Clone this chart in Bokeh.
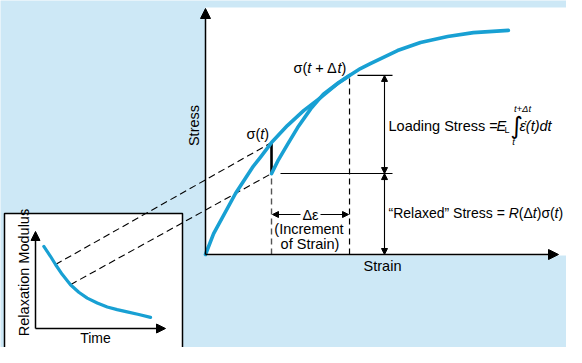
from math import pi
from bokeh.plotting import figure
from bokeh.models import Range1d, Arrow, NormalHead
from bokeh.core.properties import value
from bokeh.embed import file_html
from bokeh.resources import INLINE

# ---------------- data ----------------
# loading curve (stress-strain from origin), arbitrary units
loading_strain = [0.0, 0.23, 0.85, 1.33, 1.56, 1.87, 2.32, 2.78, 3.26, 3.74, 4.08, 4.39, 4.67, 5.44, 6.09, 6.86, 7.59, 8.58]
loading_stress = [0.0, 0.85, 2.48, 3.54, 3.96, 4.55, 5.24, 5.85, 6.38, 6.95, 7.28, 7.56, 7.76, 8.29, 8.62, 8.86, 9.02, 9.11]
# reloading curve after relaxation (from relaxed stress to sigma(t+dt))
reload_strain = [1.87, 2.07, 2.32, 2.61, 2.98, 3.34, 3.74, 4.08]
reload_stress = [3.29, 3.86, 4.47, 5.16, 5.92, 6.52, 6.95, 7.28]
# inset: relaxation modulus vs time
relax_time = [0.64, 1.15, 1.54, 2.05, 2.69, 3.33, 3.98, 4.75, 5.52, 6.28, 7.05, 7.95, 8.85]
relax_modulus = [8.37, 7.37, 6.53, 5.53, 4.47, 3.70, 3.10, 2.60, 2.20, 1.93, 1.70, 1.43, 1.13]
SIGMA_T_IDX = 5          # index of sigma(t) on loading curve
LINK_IDX = [2, 4]        # inset points linked to sigma(t) and relaxed stress
MAIN_AXIS_MAX = [10.0, 10.0]
INSET_AXIS_MAX = [10.0, 9.9]

# ---------------- layout ----------------
BG = "#cde8f6"
BLUE = "#18a0d3"
FONT = "Liberation Sans"
W, H = 566, 347


def cy(y_img):
    return H - y_img


MX0, MY0, MSX, MSY = 205, 254, 35.3, 24.6      # main diagram origin (image px) and px/unit
IX0, IY0, ISX, ISY = 35, 328, 13.0, 9.8        # inset origin and px/unit


def main_xy(s, st):
    return MX0 + s * MSX, cy(MY0) + st * MSY


def inset_xy(t, m):
    return IX0 + t * ISX, cy(IY0) + m * ISY


p = figure(width=W, height=H, x_range=Range1d(0, W), y_range=Range1d(0, H),
           output_backend="svg", toolbar_location=None, min_border=0,
           x_axis_location=None, y_axis_location=None)
p.grid.visible = False
p.outline_line_color = None
p.background_fill_color = BG
p.border_fill_color = BG
p.extra_x_ranges = {
    "strain": Range1d((0 - MX0) / MSX, (W - MX0) / MSX),
    "time": Range1d((0 - IX0) / ISX, (W - IX0) / ISX),
}
p.extra_y_ranges = {
    "stress": Range1d((0 - cy(MY0)) / MSY, (H - cy(MY0)) / MSY),
    "modulus": Range1d((0 - cy(IY0)) / ISY, (H - cy(IY0)) / ISY),
}

# panels
p.quad(left=[MX0], right=[577], bottom=[cy(255)], top=[cy(7)], fill_color="white", line_color=None)
p.quad(left=[4], right=[182], bottom=[cy(353)], top=[cy(213)], fill_color="white",
       line_color="black", line_width=1.5)


def arrow(x0, y0, x1, y1, size=9, both=False, lw=1.2):
    head = NormalHead(size=size, fill_color="black", line_color="black", line_width=1)
    start = NormalHead(size=size, fill_color="black", line_color="black", line_width=1) if both else None
    p.add_layout(Arrow(x_start=x0, y_start=y0, x_end=x1, y_end=y1, end=head, start=start,
                       line_color="black", line_width=lw))


# axes
ox, oy = main_xy(0, 0)
tx, ty = main_xy(0, MAIN_AXIS_MAX[1])
arrow(ox, oy, tx, ty, size=10, lw=1.5)
tx, ty = main_xy(MAIN_AXIS_MAX[0], 0)
arrow(ox, oy, tx, ty, size=10, lw=1.5)
ox, oy = inset_xy(0, 0)
tx, ty = inset_xy(0, INSET_AXIS_MAX[1])
arrow(ox, oy, tx, ty, size=9, lw=1.5)
tx, ty = inset_xy(INSET_AXIS_MAX[0], 0)
arrow(ox, oy, tx, ty, size=9, lw=1.5)

# link dashed lines from inset to main
sig_s, sig_v = loading_strain[SIGMA_T_IDX], loading_stress[SIGMA_T_IDX]
rel_s, rel_v = reload_strain[0], reload_stress[0]
end_s, end_v = reload_strain[-1], reload_stress[-1]
targets = [main_xy(sig_s, sig_v), main_xy(rel_s, rel_v)]
for i, (mx, my) in zip(LINK_IDX, targets):
    ix, iy = inset_xy(relax_time[i], relax_modulus[i])
    p.segment(x0=[ix], y0=[iy], x1=[mx], y1=[my], line_color="black", line_width=1.1, line_dash="7 4")

# vertical dashed lines
p.segment(x0=[rel_s], y0=[0], x1=[rel_s], y1=[rel_v], x_range_name="strain", y_range_name="stress",
          line_color="#555555", line_width=1.4, line_dash="6 4")
p.segment(x0=[end_s], y0=[0], x1=[end_s], y1=[end_v], x_range_name="strain", y_range_name="stress",
          line_color="black", line_width=1.2, line_dash="6 4")

# relaxation drop
p.segment(x0=[sig_s], y0=[sig_v], x1=[rel_s], y1=[rel_v], x_range_name="strain", y_range_name="stress",
          line_color="black", line_width=2.6)

# horizontal reference lines
p.segment(x0=[357, 280], y0=[end_v, rel_v], x1=[392, 392], y1=[end_v, rel_v], y_range_name="stress",
          line_color="black", line_width=1.1)

# curves
p.line(loading_strain, loading_stress, x_range_name="strain", y_range_name="stress",
       line_color=BLUE, line_width=3.6, line_cap="round", line_join="round")
p.line(reload_strain, reload_stress, x_range_name="strain", y_range_name="stress",
       line_color=BLUE, line_width=3.6, line_cap="round", line_join="round")
p.line(relax_time, relax_modulus, x_range_name="time", y_range_name="modulus",
       line_color=BLUE, line_width=3.2, line_cap="round", line_join="round")

# dimension arrows
_, y_top = main_xy(0, end_v)
_, y_mid = main_xy(0, rel_v)
_, y_bot = main_xy(0, 0)
arrow(384, y_mid, 384, y_top, size=6, both=True, lw=1.1)
arrow(384, y_bot, 384, y_mid, size=6, both=True, lw=1.1)
x_l, _ = main_xy(rel_s, 0)
x_r, _ = main_xy(end_s, 0)
arrow(300, cy(214), x_l + 1, cy(214), size=6, lw=1.1)
arrow(320, cy(214), x_r - 1, cy(214), size=6, lw=1.1)

# ---------------- text ----------------
ADV = {' ': .278, '(': .333, ')': .333, '+': .584, '=': .584, 'Δ': .668, 'σ': .61, 'ε': .5,
       '“': .333, '”': .333, 'a': .556, 'd': .556, 'e': .556, 'l': .222, 'x': .5, 'r': .333,
       's': .5, 't': .278, 'i': .222, 'S': .667, 'R': .722, 'E': .667, 'L': .556}


def txt(x, y, s, size=14.5, style="normal", align="left", angle=0.0, font=FONT):
    p.text(x=[x], y=[cy(y)], text=[s], text_font=value(font), text_font_size=f"{size}px",
           text_font_style=style, text_align=align, text_baseline="middle", angle=angle,
           text_color="black")


def chain(x, y, pieces, size=14.5):
    for s, style in pieces:
        lead = len(s) - len(s.lstrip(" "))
        txt(x + lead * ADV[' '] * size, y, s.strip(" "), size=size, style=style)
        x += sum(ADV.get(c, .556) for c in s) * size


txt(193, 125, "Stress", align="center", angle=pi / 2)
txt(382, 265, "Strain", align="center")
txt(23, 272, "Relaxation Modulus", align="center", angle=pi / 2)
txt(95, 337.5, "Time", size=14, align="center")

chain(246, 133, [("σ(", "normal"), ("t", "italic"), (")", "normal")])
chain(293, 67, [("σ(", "normal"), ("t", "italic"), (" + Δ", "normal"), ("t", "italic"), (")", "normal")])

txt(310, 214, "Δε", align="center")
txt(308.5, 228, "(Increment", align="center")
txt(309.5, 243, "of Strain)", align="center")

txt(388, 125, "Loading Stress =")
txt(496, 125, "E", style="italic")
txt(504, 129, "L", size=9)
txt(510, 125, "∫", size=24, font="DejaVu Sans")
txt(522, 108, "t+Δt", size=9.5, style="italic", align="center")
txt(513, 141, "t", size=9.5, style="italic", align="center")
txt(519, 125, "ε̇(t)dt", style="italic")

chain(388, 212, [("“Relaxed” Stress = ", "normal"), ("R", "italic"), ("(Δ", "normal"), ("t", "italic"),
                 (")σ(", "normal"), ("t", "italic"), (")", "normal")], size=14)

open("out.html", "w").write(file_html(p, INLINE))
